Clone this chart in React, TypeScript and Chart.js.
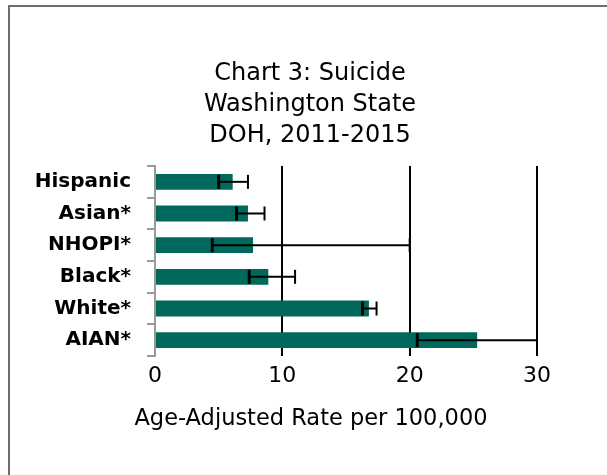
import React, { useEffect, useRef } from "react";
import { Chart, registerables } from "chart.js";

Chart.register(...registerables);

const categories = ["Hispanic", "Asian*", "NHOPI*", "Black*", "White*", "AIAN*"];
const rates = [6.1, 7.3, 7.7, 8.9, 16.8, 25.3];
const lowerCI = [5.0, 6.4, 4.5, 7.4, 16.3, 20.6];
const upperCI = [7.3, 8.6, 20.0, 11.0, 17.4, 30.0];
const titleLines = ["Chart 3: Suicide", "Washington State", "DOH, 2011-2015"];
const xAxisTitle = "Age-Adjusted Rate per 100,000";
const xTicks = [0, 10, 20, 30];

const FONT = '"DejaVu Sans", sans-serif';

const errorBarPlugin = {
  id: "errorBars",
  afterDatasetsDraw(chart: any) {
    const { ctx, scales } = chart;
    const xs = scales.x;
    const ys = scales.y;
    ctx.save();
    ctx.strokeStyle = "#000";
    categories.forEach((_, i) => {
      const y = ys.getPixelForValue(i);
      const xl = xs.getPixelForValue(lowerCI[i]);
      const xu = xs.getPixelForValue(upperCI[i]);
      const h = 7;
      ctx.lineWidth = 2;
      ctx.beginPath();
      ctx.moveTo(xl, y);
      ctx.lineTo(xu, y);
      ctx.stroke();
      ctx.lineWidth = 3;
      ctx.beginPath();
      ctx.moveTo(xl, y - h);
      ctx.lineTo(xl, y + h);
      ctx.stroke();
      ctx.lineWidth = 2;
      ctx.beginPath();
      ctx.moveTo(xu, y - h);
      ctx.lineTo(xu, y + h);
      ctx.stroke();
    });
    ctx.restore();
  },
};

const textPlugin = {
  id: "texts",
  afterDraw(chart: any) {
    const { ctx } = chart;
    ctx.save();
    ctx.fillStyle = "#000";
    ctx.textAlign = "center";
    ctx.textBaseline = "alphabetic";
    ctx.font = `24px ${FONT}`;
    titleLines.forEach((line, i) => {
      ctx.fillText(line, 310, 80 + i * 31);
    });
    ctx.font = `22.5px ${FONT}`;
    ctx.fillText(xAxisTitle, 311, 425);
    ctx.restore();
  },
};

export default function App() {
  const ref = useRef<HTMLCanvasElement | null>(null);

  useEffect(() => {
    if (!ref.current) return;
    const chart = new Chart(ref.current, {
      type: "bar",
      data: {
        labels: categories,
        datasets: [
          {
            data: rates,
            backgroundColor: "#00695B",
            borderWidth: 0,
            barPercentage: 0.5,
            categoryPercentage: 1,
          },
        ],
      },
      options: {
        indexAxis: "y",
        animation: false,
        responsive: false,
        events: [],
        layout: { padding: { left: 8, right: 70, top: 166, bottom: 0 } },
        plugins: {
          legend: { display: false },
          tooltip: { enabled: false },
          title: { display: false },
        },
        scales: {
          x: {
            type: "linear",
            min: 0,
            max: 30,
            afterFit(scale: any) {
              scale.height = 119;
            },
            afterBuildTicks(scale: any) {
              scale.ticks = xTicks.map((v) => ({ value: v }));
            },
            border: { display: false },
            grid: {
              drawTicks: false,
              lineWidth: 2,
              color: (c: any) => (c.tick && c.tick.value === 0 ? "rgba(0,0,0,0)" : "#000"),
            },
            ticks: {
              color: "#000",
              padding: 7,
              font: { family: FONT, size: 22 },
            },
          },
          y: {
            type: "category",
            afterFit(scale: any) {
              scale.width = 147;
            },
            border: { display: true, color: "#999", width: 2 },
            grid: {
              offset: true,
              drawOnChartArea: false,
              drawTicks: true,
              tickLength: 8,
              color: "#999",
              lineWidth: 2,
            },
            ticks: {
              color: "#000",
              padding: 16,
              font: { family: FONT, size: 20, weight: "bold" },
            },
          },
        },
      },
      plugins: [errorBarPlugin, textPlugin],
    });
    return () => chart.destroy();
  }, []);

  return (
    <div style={{ position: "fixed", left: 0, top: 0, width: 607, height: 475, background: "#fff" }}>
      <div
        style={{
          position: "absolute",
          left: 8,
          top: 5,
          right: -2,
          bottom: -2,
          borderTop: "2px solid #6e6e6e",
          borderLeft: "2px solid #6e6e6e",
        }}
      />
      <canvas ref={ref} width={607} height={475} style={{ position: "absolute", left: 0, top: 0 }} />
    </div>
  );
}
